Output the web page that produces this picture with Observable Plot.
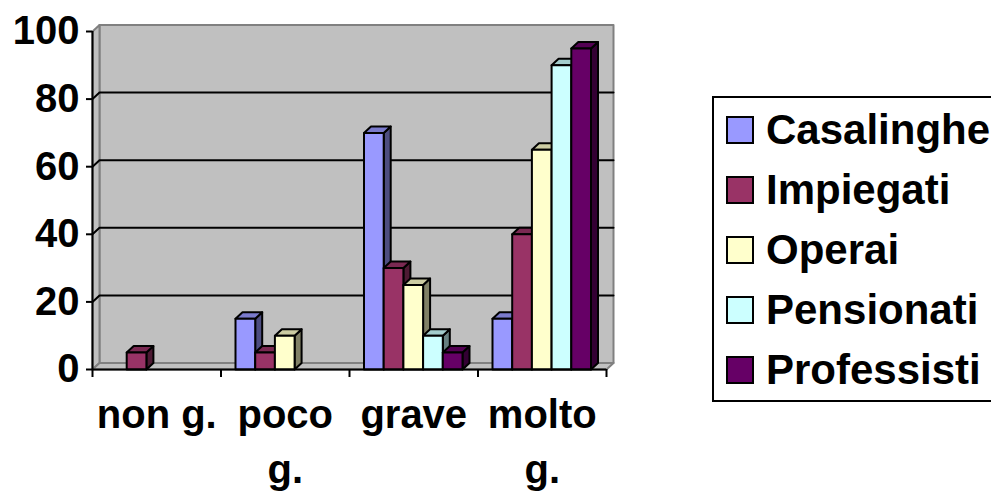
<!DOCTYPE html>
<html>
<head>
<meta charset="utf-8">
<script src="https://cdn.jsdelivr.net/npm/d3@7"></script>
<script src="https://cdn.jsdelivr.net/npm/@observablehq/plot@0.6"></script>
<style>
  html, body { margin: 0; padding: 0; background: #fff; }
  #wrap { position: relative; width: 991px; height: 491px; overflow: hidden; font-family: "Liberation Sans", Arial, sans-serif; }
  #chart { position: absolute; left: 0; top: 0; }
  #legend { position: absolute; left: 712px; top: 96px; width: 320px; height: 306px; border: 2px solid #000; box-sizing: border-box; background: #fff; }
  .row { position: absolute; left: 12px; height: 60px; display: flex; align-items: center; }
  .sw { width: 28px; height: 28px; border: 2px solid #000; box-sizing: border-box; margin-right: 12px; }
  .lab { font-size: 42px; font-weight: bold; line-height: 1; color: #000; white-space: nowrap; }
</style>
</head>
<body>
<div id="wrap"><div id="chart"></div><div id="legend"></div></div>
<script>
// ---- data ----
const categories = ["non g.", "poco g.", "grave", "molto g."];
const series = ["Casalinghe", "Impiegati", "Operai", "Pensionati", "Professisti"];
const casalinghe  = [0, 15, 70, 15];
const impiegati   = [5, 5, 30, 40];
const operai      = [0, 10, 25, 65];
const pensionati  = [0, 0, 10, 90];
const professisti = [0, 0, 5, 95];
const seriesValues = [casalinghe, impiegati, operai, pensionati, professisti];
const seriesColors = ["#9999FF", "#993366", "#FFFFCC", "#CCFFFF", "#660066"];
const yTicks = [0, 20, 40, 60, 80, 100];
const gridValues = [20, 40, 60, 80];

// ---- layout ----
const W = 991, H = 491;
const mL = 92, mR = 385, mT = 31, mB = 122;
const pxPerCat = (W - mL - mR) / categories.length;
const pxPerUnit = (H - mT - mB) / 100;
const DX = 7 / pxPerCat;      // depth offset in category units
const DY = 6.5 / pxPerUnit;   // depth offset in value units
const PAD = 14.5 / pxPerCat;
const BW = 19.7 / pxPerCat;
const N = categories.length;
const CAT_FONT = 40;
const FONT = "'Liberation Sans', Arial, sans-serif";

function shade(c, k) {
  const r = d3.rgb(c);
  return d3.rgb(r.r * k, r.g * k, r.b * k).formatHex();
}

// wrap category labels to the band width, measuring the real font
const ctx = document.createElement("canvas").getContext("2d");
ctx.font = `bold ${CAT_FONT}px ${FONT}`;
function wrap(label) {
  const words = label.split(" ");
  const lines = [];
  let cur = "";
  for (const w of words) {
    const t = cur ? cur + " " + w : w;
    if (cur && ctx.measureText(t).width > pxPerCat - 2) { lines.push(cur); cur = w; }
    else cur = t;
  }
  if (cur) lines.push(cur);
  return lines.join("\n");
}

// walls
const walls = [];
function poly(arr, id, pts, color) {
  pts.forEach(([x, y]) => arr.push({x, y, id, color}));
}
poly(walls, "back", [[DX, DY], [N + DX, DY], [N + DX, 100 + DY], [DX, 100 + DY]], "#C0C0C0");
poly(walls, "left", [[0, 0], [DX, DY], [DX, 100 + DY], [0, 100]], "#C0C0C0");
poly(walls, "floor", [[0, 0], [N, 0], [N + DX, DY], [DX, DY]], "#C0C0C0");

// gridlines
const grid = [];
gridValues.forEach(g => {
  [[0, g], [DX, g + DY], [N + DX, g + DY]].forEach(([x, y]) => grid.push({x, y, g}));
});

// bar faces
const faces = [];
categories.forEach((cat, c) => {
  series.forEach((s, i) => {
    const v = seriesValues[i][c];
    if (!(v > 0)) return;
    const x0 = c + PAD + i * BW, x1 = x0 + BW;
    const col = seriesColors[i];
    const id = c + "-" + i;
    poly(faces, id + "s", [[x1, 0], [x1 + DX, DY], [x1 + DX, v + DY], [x1, v]], shade(col, 0.5));
    poly(faces, id + "t", [[x0, v], [x1, v], [x1 + DX, v + DY], [x0 + DX, v + DY]], shade(col, 0.8));
    poly(faces, id + "f", [[x0, 0], [x1, 0], [x1, v], [x0, v]], col);
  });
});

const chart = Plot.plot({
  width: W, height: H,
  marginLeft: mL, marginRight: mR, marginTop: mT, marginBottom: mB,
  style: {fontFamily: FONT, background: "transparent", overflow: "visible"},
  x: {domain: [0, N]},
  y: {domain: [0, 100]},
  color: {type: "identity"},
  marks: [
    Plot.line(walls, {x: "x", y: "y", z: "id", fill: "color", stroke: "#808080", strokeWidth: 2, curve: "linear-closed"}),
    Plot.line(grid, {x: "x", y: "y", z: "g", stroke: "#000", strokeWidth: 2}),
    Plot.line(faces, {x: "x", y: "y", z: "id", fill: "color", stroke: "#000", strokeWidth: 2, strokeLinejoin: "round", curve: "linear-closed"}),
    Plot.ruleX([0], {y1: 0, y2: 100, stroke: "#000", strokeWidth: 2}),
    Plot.ruleY([0], {x1: 0, x2: N, stroke: "#000", strokeWidth: 2}),
    Plot.axisY({ticks: yTicks, tickSize: 6, tickPadding: 7, tickFormat: d => String(d), fontSize: 40, fontWeight: "bold", strokeWidth: 2, label: null, fill: "#000"}),
    Plot.axisX({ticks: d3.range(N + 1), tickSize: 8, tickFormat: () => "", strokeWidth: 2, label: null}),
    Plot.text(categories, {x: (d, i) => i + 0.5, y: 0, text: d => wrap(d), dy: 20, lineAnchor: "top", lineHeight: 1.36, fontSize: CAT_FONT, fontWeight: "bold", fill: "#000"})
  ]
});
document.getElementById("chart").appendChild(chart);

// legend
const legend = document.getElementById("legend");
series.forEach((s, i) => {
  const row = document.createElement("div");
  row.className = "row";
  row.style.top = (1.5 + 60 * i) + "px";
  const sw = document.createElement("div");
  sw.className = "sw";
  sw.style.background = seriesColors[i];
  const lab = document.createElement("span");
  lab.className = "lab";
  lab.textContent = s;
  row.appendChild(sw); row.appendChild(lab);
  legend.appendChild(row);
});
</script>
</body>
</html>
